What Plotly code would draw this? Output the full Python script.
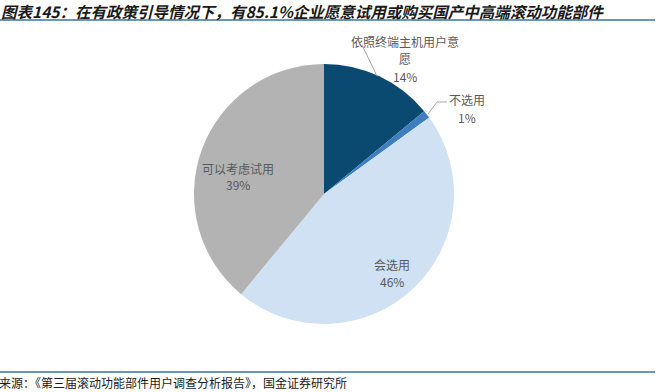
import plotly.graph_objects as go

W, H = 659, 392

labels = ["依照终端主机用户意愿", "不选用", "会选用", "可以考虑试用"]
values = [14, 1, 46, 39]
colors = ["#0b4a70", "#3d7dc0", "#cfe1f3", "#b3b3b3"]
label_lines = [["依照终端主机用户意", "愿"], ["不选用"], ["会选用"], ["可以考虑试用"]]

title = "图表145：在有政策引导情况下，有85.1%企业愿意试用或购买国产中高端滚动功能部件"
source = "来源：《第三届滚动功能部件用户调查分析报告》，国金证券研究所"

cx, cy, R = 324, 194, 130

def px(x):
    return x / W

def py(y):
    return 1 - y / H

fig = go.Figure(go.Pie(
    labels=labels, values=values, sort=False, direction="clockwise", rotation=0,
    marker=dict(colors=colors, line=dict(width=0)),
    textinfo="none", hoverinfo="label+percent", showlegend=False,
    domain=dict(x=[px(cx - R), px(cx + R)], y=[py(cy + R), py(cy - R)]),
))

# label block positions: (center x, first-line center y) in pixels
label_pos = [(405, 42), (467, 100), (392, 264), (238, 168)]
line_gap = 17
tot = sum(values)
ann = []
for lines, v, (x, y) in zip(label_lines, values, label_pos):
    rows = lines + [f"{round(v / tot * 100)}%"]
    for i, row in enumerate(rows):
        ann.append(dict(x=px(x), y=py(y + i * line_gap), xref="paper", yref="paper", text=row,
                        showarrow=False, xanchor="center", yanchor="middle",
                        font=dict(family="Noto Sans CJK SC", size=12, color="#595959")))

ann.append(dict(x=px(0), y=py(10.5), xref="paper", yref="paper", text=f"<b><i>{title}</i></b>",
                showarrow=False, xanchor="left", yanchor="middle", borderpad=0,
                font=dict(family="Noto Sans CJK SC", size=15.5, color="#1a1a1a")))
ann.append(dict(x=px(-3), y=py(382), xref="paper", yref="paper", text=source,
                showarrow=False, xanchor="left", yanchor="middle",
                font=dict(family="Noto Sans CJK SC", size=12, color="#1a1a1a")))

shapes = [
    dict(type="line", xref="paper", yref="paper", x0=0, x1=px(655), y0=py(20), y1=py(20),
         line=dict(color="#3a73a0", width=1.5)),
    dict(type="line", xref="paper", yref="paper", x0=0, x1=px(655), y0=py(372), y1=py(372),
         line=dict(color="#3a73a0", width=1.5)),
    dict(type="line", xref="paper", yref="paper", x0=px(362), x1=px(377), y0=py(45), y1=py(76),
         line=dict(color="#a6a6a6", width=1)),
    dict(type="path", xref="paper", yref="paper",
         path=f"M {px(428)} {py(114)} L {px(437)} {py(102)} L {px(447)} {py(102)}",
         line=dict(color="#a6a6a6", width=1)),
]

fig.update_layout(width=W, height=H, margin=dict(l=0, r=0, t=0, b=0),
                  paper_bgcolor="white", plot_bgcolor="white",
                  annotations=ann, shapes=shapes)

fig.write_html("out.html", post_script="document.body.style.margin='0';",
               config={"displayModeBar": False})
